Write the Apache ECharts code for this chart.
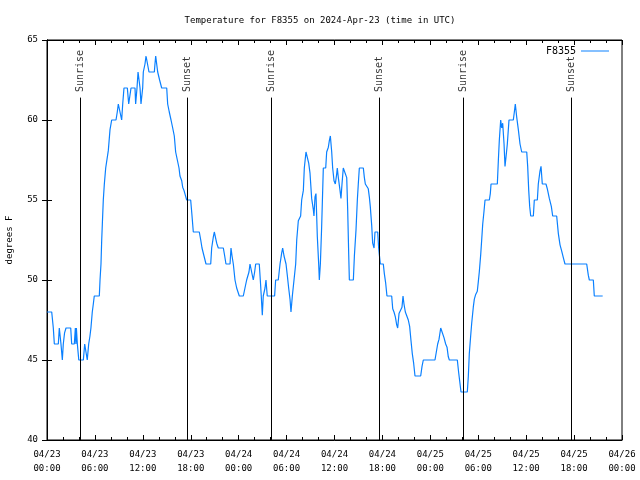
<!DOCTYPE html>
<html>
<head>
<meta charset="utf-8">
<script src="https://cdn.jsdelivr.net/npm/echarts@6/dist/echarts.min.js"></script>
<style>html,body{margin:0;padding:0;background:#fff}#c{width:640px;height:480px}</style>
</head>
<body>
<div id="c"></div>
<script>
// Hours since 2024-04-23 00:00 UTC
var timeHours = [0,0.59,0.79,0.92,1.42,1.54,1.63,1.75,1.92,2.04,2.2,2.38,2.97,3.09,3.42,3.55,3.62,3.68,3.8,3.88,3.98,4.55,4.72,4.84,5.04,5.22,5.38,5.5,5.67,5.8,5.92,6.55,6.64,6.76,6.85,6.93,7.05,7.18,7.35,7.47,7.68,7.89,8.1,8.64,8.8,8.93,9.14,9.35,9.48,9.64,10.06,10.23,10.39,10.52,11.02,11.1,11.27,11.4,11.55,11.65,11.77,11.98,12.06,12.27,12.4,12.56,12.77,13.44,13.52,13.61,13.73,13.86,14.0,14.1,14.36,14.99,15.11,15.31,15.53,15.74,15.94,16.11,16.32,16.53,16.65,16.87,16.99,17.15,17.32,17.49,17.99,18.16,18.32,19.07,19.25,19.41,19.66,19.91,20.5,20.62,20.83,20.95,21.08,21.25,21.45,22.08,22.25,22.41,22.92,23.04,23.17,23.33,23.54,23.75,24.08,24.58,24.79,25.0,25.29,25.42,25.63,25.83,26.0,26.13,26.58,26.71,26.83,26.96,27.08,27.3,27.42,27.58,28.5,28.63,28.96,29.18,29.39,29.51,29.68,29.93,30.09,30.26,30.43,30.55,30.72,30.93,31.14,31.27,31.47,31.76,31.89,32.1,32.22,32.43,32.6,32.77,32.93,33.14,33.35,33.43,33.56,33.68,33.85,34.02,34.1,34.23,34.39,34.52,34.6,34.9,35.02,35.23,35.35,35.48,35.65,35.77,35.94,36.1,36.27,36.35,36.48,36.69,36.81,36.94,37.1,37.32,37.53,37.65,37.78,37.86,38.36,38.49,38.69,38.86,38.98,39.11,39.61,39.74,39.86,40.11,40.23,40.36,40.48,40.66,40.78,40.95,41.07,41.41,41.53,41.61,41.74,42.11,42.24,42.41,42.57,43.16,43.29,43.45,43.62,43.79,43.91,44.08,44.29,44.45,44.58,44.7,44.87,45.08,45.24,45.41,45.58,45.74,45.91,46.08,46.79,46.96,47.12,48.58,48.75,48.92,49.09,49.3,49.55,49.71,49.92,50.09,50.25,50.38,51.38,51.55,51.72,51.84,52.63,52.76,52.88,53.05,53.18,53.38,53.51,53.68,53.88,54.01,54.13,54.31,54.43,54.56,54.72,54.85,55.39,55.51,55.6,56.39,56.52,56.64,56.81,56.94,57.06,57.23,57.35,57.48,57.64,57.85,58.39,58.52,58.64,58.81,59.02,59.23,59.44,60.07,60.19,60.32,60.44,60.57,60.9,61.02,61.4,61.52,61.73,61.86,62.02,62.48,62.65,62.9,63.15,63.32,63.82,64.03,64.24,64.45,64.7,64.86,67.58,67.78,67.91,68.41,68.53,69.58];
var tempF = [48,48,47,46,46,47,47,46,45,46,46.7,47,47,46,46,47,46,47,46,46,45,45,46,46,45,46,46.5,47,48,48.5,49,49,50,51,52.5,53.5,55,56,57,57.1,58.1,59.4,60,60,60.5,61,61,60,61,62,62,61,61,62,62,61,62,63,63,62,61,62,63,63.5,64,64,63,63,63.5,64,64,63,63,62.5,62,62,61,60.5,60,59.5,59,58,57.5,57,56.5,56.2,55.8,55.6,55.3,55,55,54,53,53,52.5,52,51.5,51,51,52,52.7,53,53,52.3,52,52,51.5,51,51,52,51.5,51,50,49.5,49,49,49.5,50,50.5,51,51,50,50.5,51,51,50,49,47.8,49,49.5,50,49,49,50,50,51,51.7,52,51.5,51,50.3,49.5,48.8,48,49,50,51,52.5,53.7,54,55,55.6,57,58,58,57.3,56.7,55.1,54.4,54,55.2,55.4,52.7,51,50,51,53.3,55.6,57,57,58,58.3,58.7,59,58,57,56.2,56,56.6,57,56.4,55.6,55.1,56,57,57,56.4,54.4,51.6,50,50,51.5,53.1,55,56,57,57,56.4,56,56,55.7,55.2,54.6,53.4,52.3,52,53,53,52,51.6,51,51,50.4,49.8,49,49,48.2,48,47.7,47.2,47,47.9,48,48.3,49,48.5,48,48,47.5,47.1,46.2,45.4,44.8,44,44,44.6,45,45,45.5,46,46.3,47,47,46.4,46,45.8,45.2,45,45,44.2,43.5,43,43,44,45.4,46.5,47.3,48.3,48.8,49.1,49.3,49.9,50.5,51.6,52.5,53.5,54.3,55,55,55.4,56,56,57.5,58.75,60,59.5,59.8,58.5,57.1,57.7,58.5,60,60,60.5,61,60.2,59.4,58.5,58,58,57.1,55.6,54.6,54,54,55,55,56,56.8,57.1,56,56,55.7,55.1,54.6,54,54,52.9,52.2,51.8,51.3,51,51,50.3,50,50,49,49];
var xTickLabels = ['04/23\n00:00','04/23\n06:00','04/23\n12:00','04/23\n18:00','04/24\n00:00','04/24\n06:00','04/24\n12:00','04/24\n18:00','04/25\n00:00','04/25\n06:00','04/25\n12:00','04/25\n18:00','04/26\n00:00'];
var eventNames = ['Sunrise','Sunset','Sunrise','Sunset','Sunrise','Sunset'];
var eventHours = [4.17,17.57,28.09,41.61,52.13,65.70];

var FONT = 'DejaVu Sans Mono';
var lineData = timeHours.map(function(h,i){return [h, tempF[i]];});
var eventLineTop = 61.4, eventLabelAt = 61.75;

var chart = echarts.init(document.getElementById('c'), null, {renderer:'canvas'});
var tickBase = {
  type:'value', min:0, max:72, interval:6,
  axisLine:{show:true, lineStyle:{color:'#000', width:1}},
  axisTick:{show:true, inside:true, length:5, lineStyle:{color:'#000'}},
  minorTick:{show:true, splitNumber:3, length:3, lineStyle:{color:'#000'}},
  splitLine:{show:false}, minorSplitLine:{show:false}
};
chart.setOption({
  animation:false,
  backgroundColor:'#fff',
  title:{text:'Temperature for F8355 on 2024-Apr-23 (time in UTC)', left:'center', top:11,
    textStyle:{fontFamily:FONT, fontSize:9, fontWeight:'normal', color:'#000'}},
  legend:{data:['F8355'], right:26, top:41, align:'right', icon:'rect', itemWidth:28, itemHeight:1,
    itemGap:8, textStyle:{fontFamily:FONT, fontSize:10, color:'#000'}},
  grid:{left:47, right:18, top:40, bottom:40, show:true, borderColor:'#000', borderWidth:1,
    containLabel:false, outerBoundsMode:'none'},
  xAxis:[
    Object.assign({}, tickBase, {position:'bottom',
      axisLabel:{fontFamily:FONT, fontSize:9, color:'#000', margin:8, lineHeight:14,
        formatter:function(v){return xTickLabels[Math.round(v/6)];}}}),
    Object.assign({}, tickBase, {position:'top', axisLabel:{show:false}})
  ],
  yAxis:[
    {type:'value', min:40, max:65, interval:5, position:'left',
      name:'degrees F', nameLocation:'middle', nameGap:33,
      nameTextStyle:{fontFamily:FONT, fontSize:9, color:'#000'},
      axisLine:{show:true, lineStyle:{color:'#000'}},
      axisTick:{show:true, inside:true, length:5, lineStyle:{color:'#000'}},
      axisLabel:{fontFamily:FONT, fontSize:9, color:'#000', margin:9},
      splitLine:{show:false}},
    {type:'value', min:40, max:65, interval:5, position:'right',
      axisLine:{show:true, lineStyle:{color:'#000'}},
      axisTick:{show:true, inside:true, length:5, lineStyle:{color:'#000'}},
      axisLabel:{show:false}, splitLine:{show:false}}
  ],
  series:[
    {name:'F8355', type:'line', data:lineData, symbol:'none', showSymbol:false,
      lineStyle:{color:'#0a80ff', width:1.2}, itemStyle:{color:'#0a80ff'},
      markLine:{silent:true, symbol:['none','none'], label:{show:false},
        lineStyle:{color:'#000', width:1, type:'solid'},
        data:eventHours.map(function(h){return [{coord:[h,40]},{coord:[h,eventLineTop]}];})}
    },
    {name:'events', type:'scatter', symbolSize:1, itemStyle:{color:'rgba(0,0,0,0)'},
      data:eventHours.map(function(h,i){return {value:[h,eventLabelAt], name:eventNames[i]};}),
      label:{show:true, position:'inside', rotate:90, align:'left', verticalAlign:'middle',
        offset:[0,0], formatter:function(p){return p.name;},
        fontFamily:FONT, fontSize:10, color:'#000'}
    }
  ]
});
</script>
</body>
</html>
